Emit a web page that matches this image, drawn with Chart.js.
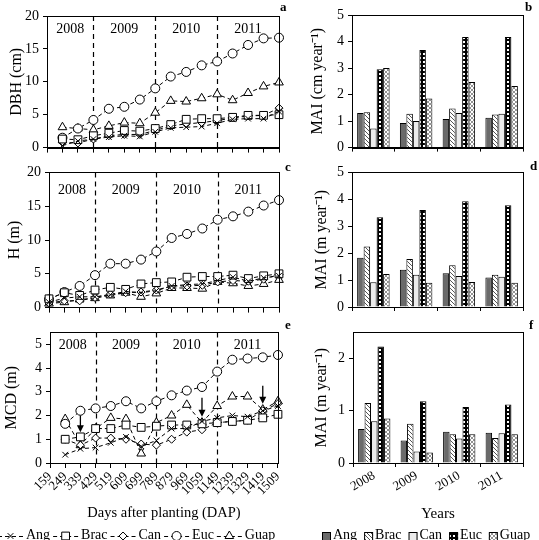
<!DOCTYPE html>
<html><head><meta charset="utf-8">
<script src="https://cdn.jsdelivr.net/npm/chart.js@4.4.1/dist/chart.umd.min.js"></script>
<style>
html,body{margin:0;padding:0;background:#fff;}
body{width:539px;height:540px;overflow:hidden;position:relative;font-family:'Liberation Serif','Times New Roman',serif;color:#000;}
canvas{position:absolute;}
.t{position:absolute;white-space:nowrap;font-size:14px;line-height:14px;}
.pl{position:absolute;font-weight:bold;font-size:13px;line-height:13px;}
</style></head><body>
<canvas id="ca" width="290" height="160" style="left:0;top:0"></canvas>
<canvas id="cb" width="249" height="160" style="left:290px;top:0"></canvas>
<canvas id="cc" width="290" height="160" style="left:0;top:160px"></canvas>
<canvas id="cd" width="249" height="160" style="left:290px;top:160px"></canvas>
<canvas id="ce" width="290" height="205" style="left:0;top:320px"></canvas>
<canvas id="cf" width="249" height="205" style="left:290px;top:320px"></canvas>
<canvas id="lg" width="539" height="20" style="left:0;top:526px"></canvas>
<div class="pl" style="left:280px;top:0px">a</div>
<div class="pl" style="left:525px;top:0px">b</div>
<div class="pl" style="left:285px;top:160px">c</div>
<div class="pl" style="left:530px;top:159px">d</div>
<div class="pl" style="left:285px;top:318px">e</div>
<div class="pl" style="left:529px;top:318px">f</div>
<div id="legtext"></div>
<script>
// ---------- data ----------
const dap = ['159','249','339','429','519','609','699','789','879','969','1059','1149','1239','1329','1419','1509'];
const years = ['2008','2009','2010','2011'];
const yearStart = ['159','429','789','1149'];
const yearEnd = ['429','789','1149','1509'];
const yearBounds = ['429','789','1149'];
const species = ['Ang','Brac','Can','Euc','Guap'];

// DBH (cm), panel a
const dbhAng  = [null,0.3,1.0,1.3,1.6,1.8,1.7,2.4,3.0,3.1,3.2,3.7,4.3,4.4,4.4,5.5];
const dbhBrac = [null,1.3,1.2,1.8,2.2,2.6,2.5,2.9,3.5,4.3,4.4,4.4,4.6,4.9,4.9,5.0];
const dbhCan  = [null,0.8,0.7,1.3,1.8,2.0,2.0,2.6,3.3,3.6,3.8,4.1,4.5,4.8,4.9,6.0];
const dbhEuc  = [null,1.5,2.9,4.2,5.9,6.2,7.3,9.0,10.8,11.5,12.5,13.1,14.3,15.6,16.6,16.7];
const dbhGuap = [null,3.1,2.9,2.7,3.3,3.8,3.7,5.3,7.1,7.0,7.5,8.1,7.2,8.3,9.3,9.9];

// H (m), panel c
const hAng  = [0.8,1.4,1.6,1.6,1.9,2.4,2.2,2.5,3.2,3.4,3.5,4.0,4.5,3.9,4.4,4.7];
const hBrac = [1.3,2.2,1.8,2.6,3.0,2.7,3.5,3.7,3.8,4.5,4.6,4.6,4.8,4.3,4.7,5.0];
const hCan  = [0.7,1.0,1.0,1.5,2.0,2.2,2.3,2.6,3.2,3.2,3.3,3.8,4.0,3.9,4.2,4.9];
const hEuc  = [1.2,2.3,3.2,4.8,6.5,6.5,7.1,8.3,10.3,10.9,11.7,13.0,13.5,14.2,15.1,15.9];
const hGuap = [0.6,0.8,1.2,1.4,1.8,2.2,1.6,2.1,2.9,2.9,2.8,3.8,3.6,3.2,3.5,4.1];

// MCD (m), panel e
const mAng  = [null,0.35,0.6,0.65,0.85,1.1,0.7,0.95,1.45,1.45,1.75,1.9,2.0,1.95,2.2,2.4];
const mBrac = [null,1.0,1.1,1.45,1.45,1.6,1.5,1.55,1.6,1.6,1.65,1.7,1.75,1.8,1.9,2.05];
const mCan  = [null,1.0,0.75,1.05,1.05,1.0,0.8,0.75,1.0,1.3,1.4,1.7,1.75,1.8,2.2,2.5];
const mEuc  = [null,1.65,2.2,2.3,2.4,2.6,2.3,2.6,2.85,3.05,3.2,3.85,4.35,4.4,4.45,4.55];
const mGuap = [null,1.85,0.75,1.45,1.9,1.85,0.4,1.7,2.0,2.45,1.7,2.4,2.8,2.8,2.25,2.6];

// arrows in panel e
const arrowDap  = ['339','1059','1419'];
const arrowFrom = [2.0,2.75,3.25];
const arrowTo   = [1.3,1.95,2.5];

// MAI bars (per species, values for 2008..2011)
const maiDbh = { Ang:[1.3,0.93,1.08,1.13], Brac:[1.33,1.28,1.47,1.25], Can:[0.72,1.0,1.3,1.28], Euc:[2.95,3.68,4.17,4.17], Guap:[3.0,1.85,2.47,2.32] };
const maiH   = { Ang:[1.83,1.38,1.25,1.1], Brac:[2.25,1.78,1.55,1.2], Can:[0.92,1.2,1.15,1.12], Euc:[3.33,3.6,3.93,3.78], Guap:[1.23,0.9,0.93,0.9] };
const maiMcd = { Ang:[0.65,0.43,0.6,0.58], Brac:[1.15,0.75,0.55,0.48], Can:[0.8,0.22,0.47,0.57], Euc:[2.23,1.18,1.07,1.12], Guap:[0.85,0.2,0.55,0.55] };

const ticks20 = [0,5,10,15,20];
const ticks5 = [0,1,2,3,4,5];
const ticks2 = [0,1,2];

// ---------- styling ----------
const FAM = "'Liberation Serif','Times New Roman',serif";
Chart.defaults.font.family = FAM;
Chart.defaults.font.size = 14;
Chart.defaults.color = '#000';
Chart.defaults.animation = false;

const markers = {Ang:{ps:'crossRot',r:4}, Brac:{ps:'rect',r:5.5}, Can:{ps:'rectRot',r:4}, Euc:{ps:'circle',r:4.5}, Guap:{ps:'triangle',r:5}};

function makePattern(kind){
  const c = document.createElement('canvas'); c.width = 4; c.height = 4;
  const g = c.getContext('2d');
  if (kind==='Ang'){ g.fillStyle='#6a6a6a'; g.fillRect(0,0,4,4); }
  else if (kind==='Brac'){ g.fillStyle='#fff'; g.fillRect(0,0,4,4); g.strokeStyle='#555'; g.lineWidth=1;
    g.beginPath(); g.moveTo(0,0); g.lineTo(4,4); g.moveTo(-2,2); g.lineTo(2,6); g.moveTo(2,-2); g.lineTo(6,2); g.stroke(); }
  else if (kind==='Can'){ g.fillStyle='#ececec'; g.fillRect(0,0,4,4); }
  else if (kind==='Euc'){ g.fillStyle='#000'; g.fillRect(0,0,4,4); g.fillStyle='#fff'; g.fillRect(1,1,2,2); }
  else { g.fillStyle='#fff'; g.fillRect(0,0,4,4); g.strokeStyle='#777'; g.lineWidth=0.8;
    g.beginPath(); g.moveTo(0,0); g.lineTo(4,4); g.moveTo(4,0); g.lineTo(0,4); g.stroke(); }
  return g.createPattern(c,'repeat');
}
const pats = {}; species.forEach(s=>pats[s]=makePattern(s));

const deco = {
  id:'deco',
  beforeDatasetsDraw(chart, args, o){
    if (!o.bounds) return;
    const {ctx, chartArea:ca, scales:{x}} = chart;
    ctx.save();
    ctx.strokeStyle='#000'; ctx.lineWidth=1.2; ctx.setLineDash([5,4]);
    o.bounds.forEach(v=>{ const px=Math.round(x.getPixelForValue(dap.indexOf(v)))+0.5;
      ctx.beginPath(); ctx.moveTo(px,ca.top); ctx.lineTo(px,ca.bottom); ctx.stroke(); });
    ctx.setLineDash([]);
    ctx.fillStyle='#000'; ctx.font="14px "+FAM; ctx.textAlign='center'; ctx.textBaseline='middle';
    years.forEach((yr,i)=>{ const a=x.getPixelForValue(dap.indexOf(yearStart[i])), b=x.getPixelForValue(dap.indexOf(yearEnd[i]));
      ctx.fillText(yr,(a+b)/2, ca.top+o.yearOffset); });
    ctx.restore();
  },
  afterDatasetsDraw(chart, args, o){
    const {ctx, chartArea:ca, scales:{x,y}} = chart;
    ctx.save();
    if (o.arrows){
      ctx.strokeStyle='#000'; ctx.fillStyle='#000'; ctx.lineWidth=1.3;
      arrowDap.forEach((d,i)=>{ const px=x.getPixelForValue(dap.indexOf(d));
        const y1=y.getPixelForValue(arrowFrom[i]), y2=y.getPixelForValue(arrowTo[i]);
        ctx.beginPath(); ctx.moveTo(px,y1); ctx.lineTo(px,y2-5); ctx.stroke();
        ctx.beginPath(); ctx.moveTo(px-3.5,y2-7); ctx.lineTo(px+3.5,y2-7); ctx.lineTo(px,y2); ctx.closePath(); ctx.fill(); });
    }
    ctx.strokeStyle='#000'; ctx.lineWidth=1;
    ctx.strokeRect(Math.round(ca.left)+0.5, Math.round(ca.top)+0.5, Math.round(ca.right-ca.left), Math.round(ca.bottom-ca.top));
    ctx.restore();
  }
};

function lineDs(name, data){
  const m = markers[name];
  return {label:name, data, borderColor:'#000', borderWidth:1, borderDash:[4,3], pointStyle:m.ps, pointRadius:m.r,
    pointBorderColor:'#000', pointBackgroundColor:'#fff', pointBorderWidth:1, fill:false, tension:0};
}

function lineChart(id, sets, yTicks, yMax, title, cfg){
  return new Chart(document.getElementById(id), {
    type:'line',
    data:{labels:dap, datasets:sets},
    plugins:[deco],
    options:{
      responsive:false, animation:false,
      layout:{padding:{top:cfg.pt, right:cfg.pr, left:0, bottom:0}},
      plugins:{legend:{display:false}, tooltip:{enabled:false}, deco:{bounds:yearBounds, yearOffset:cfg.yo, arrows:!!cfg.arrows}},
      scales:{
        x:{type:'category', offset:false,
           grid:{display:true, drawOnChartArea:false, drawTicks:true, tickLength:5, color:'#000'},
           border:{color:'#000'},
           ticks:{display:!!cfg.xTitle, autoSkip:false, maxRotation:45, minRotation:45, padding:1, font:{size:13}},
           title:{display:!!cfg.xTitle, text:cfg.xTitle||'', font:{size:14.5}, padding:{top:0,bottom:3}},
           afterFit(s){ s.height = cfg.xh; }},
        y:{min:0, max:yMax,
           grid:{drawOnChartArea:false, drawTicks:true, tickLength:4, color:'#000'},
           border:{color:'#000'},
           ticks:{padding:4, font:{size:14}},
           afterBuildTicks(s){ s.ticks = yTicks.map(v=>({value:v})); },
           title:{display:true, text:title, font:{size:16}, padding:{top:cfg.ytp, bottom:0}},
           afterFit(s){ s.width = cfg.yw; }}
      }
    }
  });
}

function barChart(id, vals, yTicks, yMax, title, cfg){
  const sets = species.map(n=>({label:n, data:vals[n], backgroundColor:pats[n], borderColor:'#000', borderWidth:1,
    barPercentage:1, categoryPercentage:0.76}));
  return new Chart(document.getElementById(id), {
    type:'bar',
    data:{labels:years, datasets:sets},
    plugins:[deco],
    options:{
      responsive:false, animation:false,
      layout:{padding:{top:cfg.pt, right:cfg.pr, left:0, bottom:0}},
      plugins:{legend:{display:false}, tooltip:{enabled:false}, deco:{}},
      scales:{
        x:{grid:{offset:true, drawOnChartArea:false, drawTicks:true, tickLength:4, color:'#000'},
           border:{color:'#000'},
           ticks:{display:!!cfg.xTitle, autoSkip:false, maxRotation:30, minRotation:30, padding:1, font:{size:13}},
           title:{display:!!cfg.xTitle, text:cfg.xTitle||'', font:{size:15}, padding:{top:0,bottom:2}},
           afterFit(s){ s.height = cfg.xh; }},
        y:{min:0, max:yMax,
           grid:{drawOnChartArea:false, drawTicks:true, tickLength:4, color:'#000'},
           border:{color:'#000'},
           ticks:{padding:4, font:{size:14}},
           afterBuildTicks(s){ s.ticks = yTicks.map(v=>({value:v})); },
           title:{display:true, text:title, font:{size:16}, padding:{top:cfg.ytp, bottom:0}},
           afterFit(s){ s.width = cfg.yw; }}
      }
    }
  });
}

lineChart('ca', [lineDs('Ang',dbhAng),lineDs('Brac',dbhBrac),lineDs('Can',dbhCan),lineDs('Euc',dbhEuc),lineDs('Guap',dbhGuap)],
  ticks20, 20, 'DBH (cm)', {pt:16, pr:11, xh:11, yw:47, ytp:7, yo:13});
lineChart('cc', [lineDs('Ang',hAng),lineDs('Brac',hBrac),lineDs('Can',hCan),lineDs('Euc',hEuc),lineDs('Guap',hGuap)],
  ticks20, 20, 'H (m)', {pt:11, pr:11, xh:11, yw:49, ytp:5, yo:18});
lineChart('ce', [lineDs('Ang',mAng),lineDs('Brac',mBrac),lineDs('Can',mCan),lineDs('Euc',mEuc),lineDs('Guap',mGuap)],
  ticks5, 5.5, 'MCD (m)', {pt:11, pr:10, xh:62, yw:50, ytp:2, yo:13, arrows:true, xTitle:'Days after planting (DAP)'});

barChart('cb', maiDbh, ticks5, 5, 'MAI (cm year\u207B\u00B9)', {pt:15, pr:16, xh:12, yw:62, ytp:18});
barChart('cd', maiH, ticks5, 5, 'MAI (m year\u207B\u00B9)', {pt:9, pr:16, xh:13, yw:62, ytp:22});
barChart('cf', maiMcd, ticks2, 2.5, 'MAI (m year\u207B\u00B9)', {pt:10, pr:16, xh:62, yw:63, ytp:22, xTitle:'Years'});

// ---------- legends (laid out sequentially from measured text widths) ----------
const lg = document.getElementById('lg').getContext('2d');
const lt = document.getElementById('legtext');
const cy = 10, LFONT = '14px '+FAM;
lg.font = LFONT;
function addText(txt, x){ const d=document.createElement('div'); d.className='t'; d.style.left=x+'px'; d.style.top='528px'; d.textContent=txt; lt.appendChild(d); }
// left legend: dashed line with marker, then label
let x = -2;
species.forEach(n=>{
  const seg = 25, mx = x + seg/2;
  lg.save(); lg.strokeStyle='#000'; lg.lineWidth=1; lg.setLineDash([4,3]);
  lg.beginPath(); lg.moveTo(x,cy+0.5); lg.lineTo(x+seg,cy+0.5); lg.stroke(); lg.setLineDash([]);
  lg.fillStyle='#fff';
  const m = markers[n];
  Chart.helpers.drawPoint(lg, {pointStyle:m.ps, radius:m.r, rotation:0, borderWidth:1}, mx, cy);
  lg.restore();
  addText(n, x+seg+3);
  lg.font = LFONT;
  x += seg + 3 + lg.measureText(n).width + 3;
});
// right legend: patterned swatch, then label
x = 322;
species.forEach(n=>{
  lg.save(); lg.fillStyle=pats[n]; lg.fillRect(x,cy-4,9,9);
  lg.strokeStyle='#000'; lg.lineWidth=1; lg.strokeRect(x+0.5,cy-3.5,8,8); lg.restore();
  addText(n, x+11);
  lg.font = LFONT;
  x += 11 + lg.measureText(n).width + 7;
});
</script>
</body></html>
